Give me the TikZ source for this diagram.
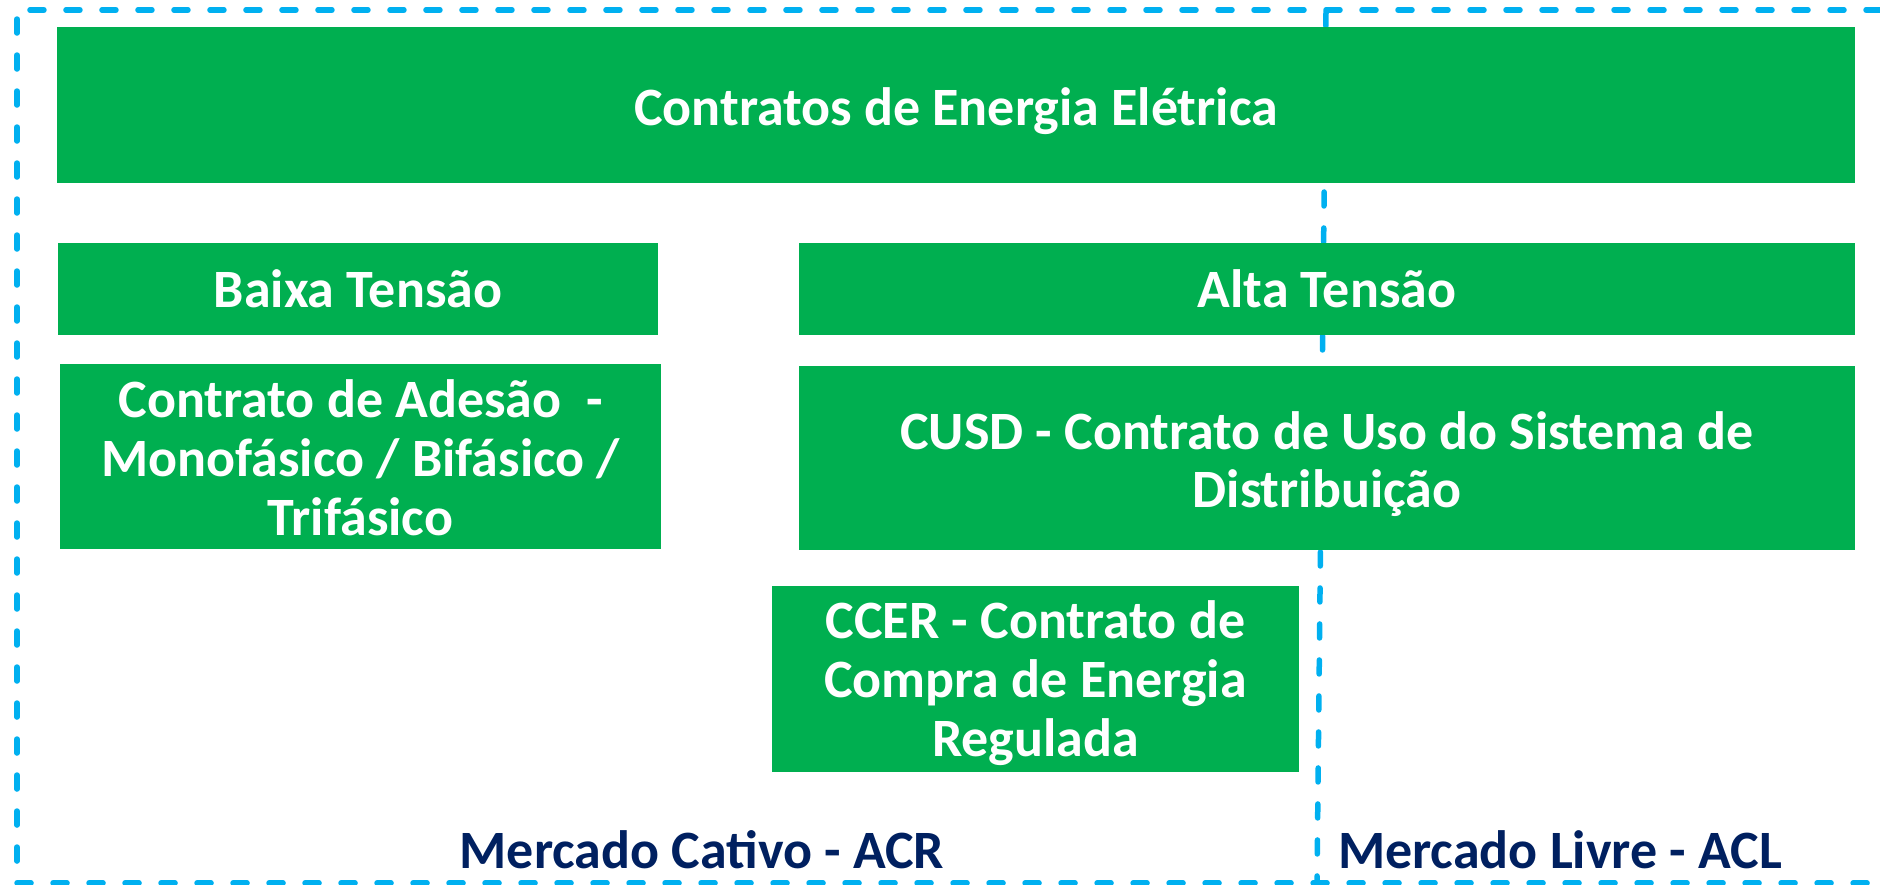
\documentclass[tikz,border=0pt]{standalone}
\usepackage{fontspec}
\setmainfont{Carlito}
\definecolor{boxgreen}{HTML}{00AF50}
\definecolor{dashblue}{HTML}{00B0F0}
\definecolor{navy}{HTML}{002060}
\tikzset{
  greenbox/.style={fill=boxgreen, draw=none, inner sep=0pt},
  boxtext/.style={inner sep=0pt, align=center, text=white,
    font=\fontsize{21.6}{23.5}\selectfont\bfseries},
  marketlabel/.style={inner sep=0pt, text=navy, font=\fontsize{21.6}{23.5}\selectfont\bfseries},
  frameline/.style={draw=dashblue, line width=2.2pt, line cap=round, dash pattern=on 5.6pt off 8.8pt}
}
\begin{document}
\begin{tikzpicture}[x=0.4pt, y=-0.4pt]
\useasboundingbox (0,0) rectangle (1880,885);
% divider (behind boxes)
\coordinate (divtop) at (1326,12);
\coordinate (divbot) at (1317,883);
\draw[frameline] (divtop) -- (divbot);
% outer frame
\coordinate (ftr) at (1880,10);
\coordinate (ftl) at (17,10);
\coordinate (fbl) at (17,883);
\coordinate (fbr) at (1880,883);
\draw[frameline] (ftr) -- (ftl) -- (fbl) -- (fbr);
% boxes
\node[greenbox, minimum width=719pt, minimum height=62.4pt] (title) at (956,105.5) {};
\node[greenbox, minimum width=240.2pt, minimum height=36.6pt] (baixa) at (358,289) {};
\node[greenbox, minimum width=422.6pt, minimum height=36.6pt] (alta) at (1327,289) {};
\node[greenbox, minimum width=240.4pt, minimum height=74pt] (adesao) at (360.5,456.5) {};
\node[greenbox, minimum width=422.6pt, minimum height=73.6pt] (cusd) at (1327,458) {};
\node[greenbox, minimum width=210.8pt, minimum height=74.4pt] (ccer) at (1035.5,679) {};
% box texts
\node[boxtext] (titletxt) at ([yshift=-2.4pt]title.center) {Contratos de Energia Elétrica};
\node[boxtext] (baixatxt) at (baixa.center) {Baixa Tensão};
\node[boxtext] (altatxt) at (alta.center) {Alta Tensão};
\node[boxtext] (adesaotxt) at ([yshift=-0.6pt]adesao.center) {Contrato de Adesão\ \ -\\Monofásico / Bifásico /\\Trifásico};
\node[boxtext] (cusdtxt) at ([yshift=-2.4pt]cusd.center) {CUSD - Contrato de Uso do Sistema de\\Distribuição};
\node[boxtext] (ccertxt) at ([yshift=-1.6pt]ccer.center) {CCER - Contrato de\\Compra de Energia\\Regulada};
% market labels
\node[marketlabel] (cativo) at (702,850) {Mercado Cativo - ACR};
\node[marketlabel] (livre) at (1560,850) {Mercado Livre - ACL};
\end{tikzpicture}
\end{document}
